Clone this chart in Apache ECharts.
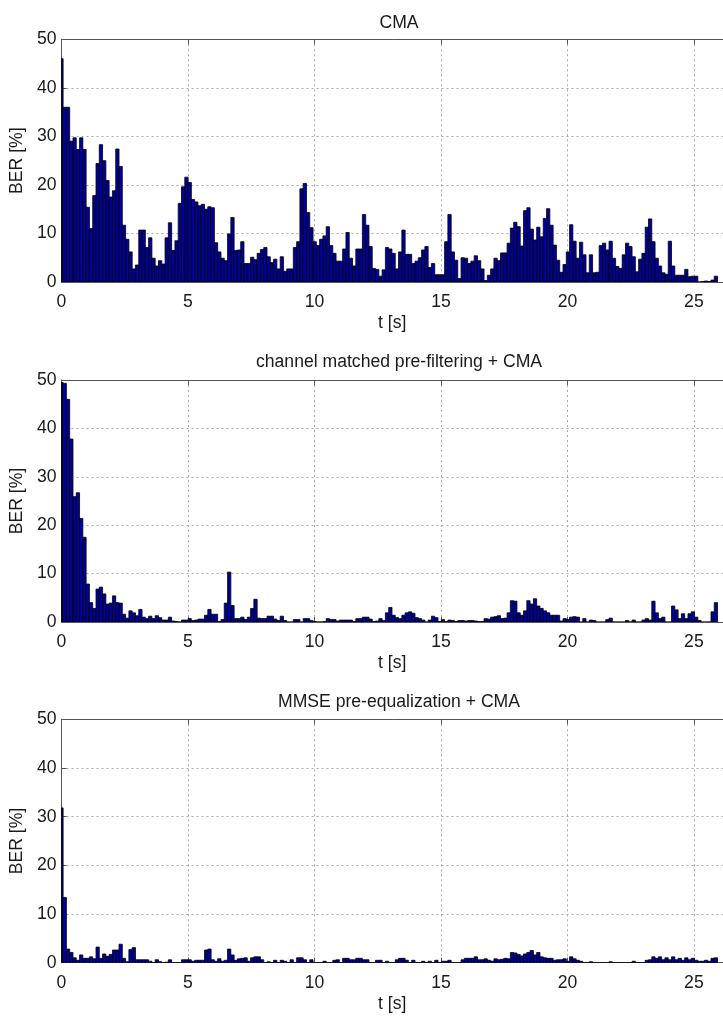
<!DOCTYPE html>
<html><head><meta charset="utf-8">
<script src="https://cdn.jsdelivr.net/npm/echarts@6/dist/echarts.min.js"></script>
<style>html,body{margin:0;padding:0;background:#fff}#c{width:723px;height:1017px}</style>
</head><body><div id="c"></div>
<script>
// ---- data ----
const titles = ['CMA', 'channel matched pre-filtering + CMA', 'MMSE pre-equalization + CMA'];
const xTicks = [0, 5, 10, 15, 20, 25];
const yTicks = [0, 10, 20, 30, 40, 50];
const xName = 't [s]';
const yName = 'BER [%]';
const binWidth = 0.13; // seconds per BER frame

const berCMA = [
  46, 36, 36, 29, 29.7, 27.3, 29.7, 27.3, 15.4, 11,
  17.8, 24.4, 28.3, 25, 20.9, 17.5, 18.8, 27.4, 23.8, 11.7,
  8.8, 6.2, 2.7, 3.5, 10.7, 10.7, 7.1, 9.1, 4.9, 3.3,
  4.4, 3.7, 9.1, 12.2, 6.5, 8.5, 16.2, 19.6, 21.6, 20.5,
  17, 16.5, 15.7, 16, 15, 15.5, 15.3, 8.1, 6.2, 4.9,
  4.4, 9.9, 13.3, 6.5, 6.6, 8.3, 3.8, 3.8, 5.1, 4.6,
  5.9, 6.7, 7.1, 5.2, 4.0, 4.7, 2.7, 5.2, 2.2, 2.7,
  2.7, 7.1, 8.3, 19.2, 20.3, 14.3, 11.2, 8.3, 7.5, 8.8,
  9.5, 11.4, 7.5, 5.9, 4.3, 4.3, 6.8, 10.2, 4.9, 3.3,
  6.8, 6.8, 13.9, 11.7, 7.3, 2.8, 2.6, 1.2, 2.5, 7.1,
  6.8, 5.9, 2.7, 6.2, 10.7, 5.7, 5.7, 3.8, 4.3, 5.0,
  6.6, 7.3, 3.0, 3.8, 1.5, 1.5, 1.5, 8.3, 13.9, 6.2,
  4.5, 0.7, 5.0, 4.9, 3.8, 4.3, 5.4, 4.4, 2.7, 0.3,
  1.4, 2.7, 4.9, 4.4, 6.0, 6.0, 8.0, 11.1, 12.3, 11.4,
  7.4, 14.7, 15.3, 10.9, 8.65, 11.3, 9.3, 13.1, 15.1, 11.7,
  7.6, 4.5, 2.0, 3.6, 6.2, 11.8, 8.4, 4.9, 8.2, 5.6,
  1.9, 5.6, 1.9, 2.0, 7.5, 8.0, 6.6, 8.4, 4.9, 3.2,
  2.8, 5.6, 8.0, 7.3, 5.2, 2.1, 4.7, 5.9, 11.3, 13.0,
  8.3, 4.9, 3.3, 1.9, 1.6, 8.4, 3.3, 1.4, 1.4, 1.4,
  2.6, 1.1, 1.2, 1.2, 0, 0.1, 0.2, 0.1, 0.4, 1.2
];

const berMatched = [
  49.5, 49.3, 46, 37.8, 25.9, 26.7, 21.4, 17.5, 7.85, 4.0,
  2.8, 6.8, 7.2, 5.8, 3.7, 3.9, 5.4, 4.0, 3.9, 1.6,
  0.8, 2.3, 1.9, 1.3, 2.6, 1.0, 0.7, 1.2, 0.7, 1.3,
  0.9, 0.4, 0.4, 1.0, 0.2, 0.1, 0, 0.4, 0.4, 0.7,
  0.3, 0.4, 0.6, 0.6, 1.4, 2.6, 1.6, 1.6, 0.1, 0.5,
  3.9, 10.3, 3.4, 0.7, 0.7, 1.0, 0.5, 1.0, 2.8, 4.7,
  0.8, 0.7, 0.7, 1.2, 1.2, 0.6, 0.3, 1.2, 0.3, 0,
  0, 0.5, 0.5, 0, 0.7, 0.7, 0.3, 0.1, 0, 0,
  0.1, 0.7, 0.5, 0.5, 0.2, 0.4, 0.4, 0.4, 0.4, 0.1,
  0.7, 0.7, 1.0, 1.0, 0.6, 0.1, 0.2, 0.7, 0.3, 1.9,
  3.0, 1.4, 0.9, 0.7, 1.4, 1.9, 2.1, 1.8, 0.9, 0.7,
  0.4, 0, 0.4, 1.2, 0.9, 0.1, 0.5, 0.1, 0.4, 0.3,
  0.1, 0.3, 0.3, 0.2, 0.3, 0.3, 0.2, 0.1, 0.1, 0.7,
  0.6, 1.0, 1.1, 1.3, 0.7, 0.8, 1.9, 4.4, 4.3, 1.9,
  1.4, 2.3, 4.4, 3.7, 4.8, 3.3, 2.8, 2.3, 1.9, 1.4,
  1.4, 1.4, 0.2, 0.7, 0.5, 1.0, 1.1, 1.0, 0, 0.7,
  0, 0.4, 0.3, 0, 0, 0, 0.5, 0.8, 0, 0,
  0, 0, 0.3, 0, 0.4, 0, 0, 0.4, 0.7, 0.4,
  4.3, 1.9, 0.7, 1.0, 0, 0, 3.3, 2.5, 0.7, 1.7,
  0.7, 1.7, 2.1, 1.0, 0.3, 0, 0, 0, 2.1, 4.0
];

const berMMSE = [
  31.8, 13.4, 2.8, 2.1, 1.0, 0.5, 1.6, 0.9, 0.9, 1.2,
  0.8, 3.2, 0.9, 1.8, 1.3, 1.7, 2.6, 2.6, 3.8, 0.9,
  0.2, 2.7, 3.1, 0.6, 0.6, 0.6, 0.6, 0.3, 0, 0.6,
  0.2, 0, 0.1, 0.6, 0, 0, 0, 0.6, 0.6, 0.6,
  0.3, 0.5, 0.5, 0.5, 2.6, 2.8, 0.6, 0.3, 0.8, 0.3,
  0.5, 2.8, 1.6, 0.5, 0.8, 0.9, 1.0, 0.3, 1.0, 1.2,
  1.2, 0.6, 0, 0.2, 0, 0.5, 0, 0.5, 0.3, 0,
  0.6, 0, 1.0, 1.0, 0.6, 0, 0.6, 0, 0, 0,
  0.3, 0, 0, 0.5, 0.6, 0, 0.9, 0.9, 0.6, 0.6,
  0.9, 0.9, 0.6, 0.6, 0, 0, 0.5, 0.5, 0, 0.3,
  0, 0, 0.6, 0.9, 0.9, 0.5, 0, 0.5, 0, 0,
  0.3, 0, 0.3, 0, 0.5, 0, 0.3, 0.3, 0.5, 0,
  0, 0, 0.6, 0.9, 0.9, 0.9, 1.2, 0.6, 0.6, 0.8,
  0.5, 0.3, 0.8, 0.6, 0.7, 0.9, 0.8, 2.1, 2.0, 1.7,
  1.4, 1.8, 2.1, 2.5, 1.6, 2.1, 1.2, 1.0, 0.9, 0.9,
  0.5, 0.6, 0.6, 0.8, 0.3, 1.2, 0.8, 0.5, 0.3, 0,
  0, 0.2, 0, 0, 0, 0, 0, 0.2, 0, 0,
  0, 0, 0, 0, 0.3, 0, 0, 0, 0.5, 0.6,
  1.2, 0.9, 1.2, 0.6, 1.0, 0.6, 1.2, 0.6, 0.9, 0.5,
  1.0, 0.6, 0.9, 0.5, 0.3, 0.3, 0.5, 0.3, 0.9, 1.0
];

const seriesList = [berCMA, berMatched, berMMSE];
const times = berCMA.map((_, k) => +(k * binWidth).toFixed(3));

// ---- layout / style ----
const FONT = 'Liberation Sans, Arial, Helvetica, sans-serif';
const FS = 17.6;
const TXT = '#1a1a1a';
const AX = '#555';
const gridTops = [39.3, 380, 719.3];
const gridHeights = [242.7, 242, 243.4];
const GRID_LEFT = 61, GRID_WIDTH = 666;
const X_MAX = 26.15;

function renderBar(params, api) {
  const x = api.value(0), y = api.value(1);
  const p0 = api.coord([x - binWidth / 2, 0]);
  const p1 = api.coord([x + binWidth / 2, y]);
  const cs = params.coordSys;
  const rect = echarts.graphic.clipRectByRect(
    { x: p0[0], y: p1[1], width: p1[0] - p0[0], height: p0[1] - p1[1] },
    { x: cs.x, y: cs.y - 1, width: cs.width, height: cs.height + 1 }
  );
  if (!rect) return null;
  return { type: 'rect', shape: rect, style: { fill: '#00009a', stroke: '#000', lineWidth: 0.8 } };
}

const option = { animation: false, backgroundColor: '#fff', title: [], grid: [], xAxis: [], yAxis: [], series: [] };
const titleCenters = [19, 358, 698];

seriesList.forEach((vals, i) => {
  option.title.push({
    text: titles[i], left: GRID_LEFT + GRID_WIDTH / 2, top: titleCenters[i] - FS / 2 - 1, textAlign: 'center',
    textStyle: { fontFamily: FONT, fontSize: FS, fontWeight: 'normal', color: TXT }
  });
  option.grid.push({ left: GRID_LEFT, top: gridTops[i], width: GRID_WIDTH, height: gridHeights[i] });
  const xCommon = {
    type: 'value', gridIndex: i, min: 0, max: X_MAX, interval: 5,
    axisLine: { show: true, lineStyle: { color: AX, width: 1 } },
    axisTick: { show: true, inside: true, length: 5, lineStyle: { color: AX } }
  };
  option.xAxis.push(Object.assign({}, xCommon, {
    position: 'bottom',
    name: xName, nameLocation: 'middle', nameGap: 32,
    nameTextStyle: { fontFamily: FONT, fontSize: FS, color: TXT },
    axisLabel: {
      show: true, margin: 11, showMaxLabel: false, fontFamily: FONT, fontSize: FS, color: TXT,
      formatter: v => (xTicks.indexOf(v) >= 0 ? String(v) : '')
    },
    splitLine: { show: true, lineStyle: { color: '#a8a8a8', type: [2, 3], width: 1 } }
  }));
  option.xAxis.push(Object.assign({}, xCommon, {
    position: 'top', axisLabel: { show: false }, splitLine: { show: false }
  }));
  option.yAxis.push({
    type: 'value', gridIndex: i, min: yTicks[0], max: yTicks[yTicks.length - 1], interval: 10,
    name: yName, nameLocation: 'middle', nameGap: 27, nameRotate: 90,
    nameTextStyle: { fontFamily: FONT, fontSize: FS, color: TXT },
    axisLine: { show: true, lineStyle: { color: AX, width: 1 } },
    axisTick: { show: true, inside: true, length: 5, lineStyle: { color: AX } },
    axisLabel: { margin: 5, fontFamily: FONT, fontSize: FS, color: TXT },
    splitLine: { show: true, lineStyle: { color: '#a8a8a8', type: [2, 3], width: 1 } }
  });
  option.series.push({
    type: 'custom', xAxisIndex: 2 * i, yAxisIndex: i, renderItem: renderBar, clip: true,
    data: times.map((t, k) => [t, vals[k]]), z: 3
  });
});

const chart = echarts.init(document.getElementById('c'), null, { renderer: 'canvas' });
chart.setOption(option);
</script>
</body></html>
